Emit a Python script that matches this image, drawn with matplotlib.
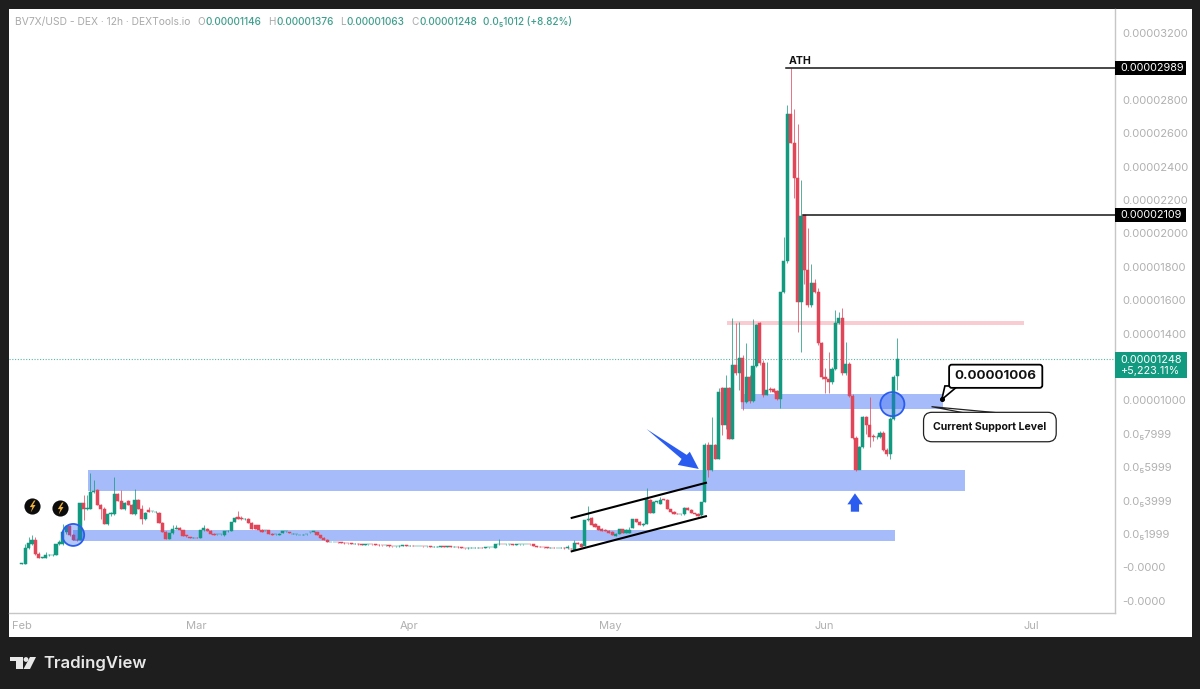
import matplotlib
matplotlib.use('Agg')
import matplotlib.pyplot as plt
from matplotlib.patches import Rectangle, Polygon, Circle

plt.rcParams['font.family'] = ['Inter', 'DejaVu Sans']

W, H = 1200, 689
GREEN = '#129a80'
RED = '#e04558'
BAND = '#a6bcfa'
GREY = '#b0b0b0'

# prices are in units of 1e-8 USD, one candle every 12h
opens = [
    23, 23, 119, 143, 163, 83, 59, 59, 73, 73,
    77, 139, 143, 213, 247, 193, 167, 167, 387, 353,
    353, 453, 463, 373, 353, 263, 319, 323, 443, 399,
    349, 397, 373, 323, 407, 353, 293, 343, 337, 333,
    327, 267, 213, 173, 207, 233, 237, 223, 193, 183,
    177, 179, 179, 223, 233, 219, 203, 199, 199, 193,
    219, 219, 273, 301, 299, 293, 293, 267, 253, 253,
    227, 223, 223, 203, 199, 195, 207, 219, 213, 203,
    199, 195, 197, 199, 211, 215, 213, 193, 179, 167,
    153,
    153, 153, 151, 149, 147, 145, 143, 143, 141, 137,
    139, 141, 139, 137, 135, 133, 133, 129, 127, 127,
    131, 133, 131, 131, 129, 129, 129, 127, 127, 125,
    125, 125, 127, 123, 127, 125, 125, 121, 117, 115,
    119, 119, 119, 119, 117, 121, 123, 119, 139, 141,
    139, 139, 139, 137, 139, 139, 141, 141, 139, 129,
    125, 123, 121, 119, 119, 117, 117, 119, 115, 113,
    107, 147, 143, 129, 283, 297, 263, 247, 233, 227,
    219, 213, 187, 203, 229, 207, 207, 237, 289, 273,
    253, 263, 403, 327, 393, 383, 409, 407, 349, 335,
    323, 319, 319, 359, 347, 327, 323, 313, 393,
    732, 582, 732, 652, 1072, 852, 1072, 772, 1212, 1162,
    1256, 992, 1138, 996, 1206, 1462, 1226, 1032, 1066, 1066,
    1056, 1006, 1652, 1835, 2713, 2539, 2335, 1590, 2109, 1779,
    1572, 1705, 1652, 1342, 1138, 1126, 1112, 1186, 1462, 1492,
    1162, 1218, 1026, 776, 582, 722, 902, 852, 786, 782,
    782, 808, 706, 678, 892, 1146,
]
closes = [
    25, 119, 147, 163, 83, 59, 61, 73, 73, 77,
    139, 153, 213, 247, 193, 167, 163, 387, 353, 355,
    453, 459, 373, 353, 263, 319, 327, 443, 399, 349,
    387, 373, 323, 407, 353, 293, 327, 333, 337, 333,
    267, 213, 173, 207, 233, 237, 223, 187, 187, 177,
    179, 177, 227, 237, 219, 199, 195, 199, 199, 219,
    219, 273, 297, 291, 291, 293, 267, 233, 233, 223,
    213, 223, 203, 193, 199, 203, 217, 219, 205, 203,
    199, 195, 197, 203, 215, 219, 193, 179, 167, 153,
    153,
    153, 151, 149, 147, 145, 143, 143, 141, 137, 139,
    141, 139, 137, 135, 133, 133, 129, 127, 127, 131,
    133, 131, 131, 129, 129, 129, 127, 127, 125, 125,
    125, 127, 123, 127, 125, 125, 121, 117, 115, 119,
    119, 119, 119, 117, 121, 123, 123, 139, 141, 139,
    139, 139, 137, 139, 139, 141, 141, 139, 129, 125,
    123, 121, 119, 119, 117, 117, 119, 115, 121, 111,
    147, 143, 123, 283, 293, 253, 243, 223, 219, 219,
    207, 193, 203, 229, 207, 227, 223, 289, 273, 253,
    263, 409, 327, 393, 397, 407, 407, 349, 335, 323,
    319, 319, 359, 347, 327, 319, 309, 393, 732,
    582, 732, 652, 1052, 852, 1072, 772, 1212, 1162, 1256,
    992, 1138, 996, 1206, 1452, 1226, 1032, 1062, 1062, 1052,
    1006, 1652, 1835, 2713, 2539, 2335, 1590, 2105, 1779, 1572,
    1705, 1650, 1342, 1138, 1126, 1112, 1186, 1462, 1492, 1162,
    1218, 1026, 776, 582, 722, 902, 852, 782, 782, 782,
    808, 706, 678, 892, 1142, 1248,
]
highs = [
    25, 143, 183, 197, 183, 93, 65, 93, 79, 81,
    143, 167, 263, 255, 255, 203, 175, 387, 433, 433,
    563, 523, 467, 383, 365, 323, 335, 543, 447, 463,
    391, 405, 381, 467, 411, 373, 333, 363, 341, 337,
    333, 271, 217, 207, 253, 253, 241, 227, 197, 185,
    181, 183, 227, 253, 237, 223, 207, 203, 201, 221,
    223, 273, 305, 339, 307, 297, 297, 271, 257, 257,
    231, 227, 225, 207, 201, 207, 221, 221, 215, 205,
    201, 197, 199, 203, 215, 219, 215, 195, 181, 169,
    155,
    155, 155, 153, 151, 149, 147, 145, 145, 143, 141,
    143, 143, 141, 139, 137, 135, 135, 131, 129, 133,
    135, 135, 133, 133, 131, 131, 131, 129, 129, 127,
    127, 129, 129, 129, 129, 127, 127, 123, 119, 121,
    121, 121, 121, 121, 123, 125, 125, 141, 169, 143,
    141, 141, 141, 141, 141, 143, 143, 143, 141, 131,
    127, 125, 123, 121, 121, 119, 121, 121, 137, 115,
    163, 151, 147, 287, 369, 301, 267, 251, 235, 231,
    223, 217, 207, 231, 233, 231, 241, 291, 293, 277,
    267, 473, 413, 397, 399, 423, 411, 409, 351, 337,
    325, 321, 361, 361, 349, 329, 325, 393, 745,
    750, 902, 740, 1072, 1082, 1152, 1080, 1492, 1462, 1472,
    1270, 1342, 1150, 1486, 1460, 1470, 1240, 1232, 1082, 1072,
    1062, 1652, 1979, 2769, 2989, 2743, 2655, 2323, 2109, 2033,
    1819, 1725, 1672, 1352, 1192, 1292, 1200, 1542, 1532, 1552,
    1352, 1230, 1040, 790, 730, 910, 910, 1022, 800, 792,
    820, 815, 715, 900, 1150, 1376,
]
lows = [
    21, 23, 111, 135, 73, 55, 55, 57, 69, 71,
    73, 135, 137, 203, 187, 163, 159, 163, 283, 345,
    350, 445, 373, 293, 263, 255, 310, 315, 399, 349,
    343, 373, 323, 315, 353, 263, 285, 333, 331, 327,
    267, 213, 173, 169, 203, 229, 223, 187, 183, 175,
    175, 175, 175, 219, 219, 199, 195, 197, 195, 191,
    215, 217, 271, 291, 285, 285, 267, 233, 233, 223,
    213, 217, 203, 193, 195, 193, 205, 215, 205, 201,
    197, 193, 195, 197, 207, 213, 193, 179, 167, 153,
    151,
    151, 149, 147, 143, 141, 141, 139, 135, 135, 135,
    137, 135, 133, 131, 131, 127, 125, 125, 125, 125,
    129, 129, 129, 127, 127, 127, 125, 125, 123, 123,
    123, 123, 121, 121, 123, 123, 119, 115, 113, 113,
    117, 117, 117, 115, 115, 119, 121, 117, 137, 139,
    137, 137, 135, 135, 137, 137, 139, 137, 127, 123,
    121, 119, 117, 117, 115, 115, 115, 113, 113, 109,
    105, 143, 121, 127, 281, 253, 243, 223, 219, 219,
    207, 193, 187, 199, 207, 205, 205, 235, 273, 253,
    251, 261, 325, 325, 387, 383, 405, 349, 335, 323,
    319, 317, 317, 347, 327, 319, 309, 311, 391,
    542, 578, 648, 648, 792, 832, 770, 770, 1150, 1062,
    942, 985, 985, 990, 1200, 1215, 1020, 1030, 1050, 1045,
    1000, 952, 1645, 1825, 2539, 2213, 1412, 1292, 1700, 1560,
    1560, 1645, 1335, 1130, 1042, 1042, 1100, 1180, 1455, 1155,
    1155, 1020, 770, 575, 700, 715, 800, 720, 760, 770,
    775, 700, 670, 652, 885, 1063,
]

month_ticks = [0, 51, 112.7, 171.5, 233.7, 294]
month_labels = ['Feb', 'Mar', 'Apr', 'May', 'Jun', 'Jul']
price_ticks = [3200, 2800, 2600, 2400, 2200, 2000, 1800, 1600, 1400,
               1000, 800, 600, 400, 200, 0, -200]
price_labels = ['0.00003200', '0.00002800', '0.00002600', '0.00002400',
                '0.00002200', '0.00002000', '0.00001800', '0.00001600', '0.00001400',
                '0.00001000', '0.0₅7999', '0.0₅5999', '0.0₅3999', '0.0₅1999',
                '-0.0000', '-0.0000']

ath_price = 2989
swing_price = 2109
last_price = 1248
support_price = 1006


def px_axes(fig, left, top, right, bottom):
    # axes placed by pixel edges, measured from the top left of the figure
    return fig.add_axes([left / W, 1 - bottom / H, (right - left) / W, (bottom - top) / H])


fig = plt.figure(figsize=(12, 6.89), dpi=100, facecolor='#1e1e1e')

# white panel and footer chrome, in pixel coordinates
chrome = px_axes(fig, 0, 0, W, H)
chrome.set_xlim(0, W)
chrome.set_ylim(H, 0)
chrome.axis('off')
chrome.add_patch(Rectangle((9, 9), 1183, 628, fc='white', ec='none'))
chrome.add_patch(Polygon([(10, 657), (23, 657), (23, 669), (16, 669), (16, 661), (10, 661)], fc='#e8e8e8'))
chrome.add_patch(Circle((26, 659.5), 2.4, fc='#e8e8e8'))
chrome.add_patch(Polygon([(30, 657), (36, 657), (30, 669), (23.5, 669)], fc='#e8e8e8'))
chrome.text(43, 663.5, 'TradingView', color='#e8e8e8', fontsize=12.0, fontweight='semibold', va='center')

ax = px_axes(fig, 9, 9, 1114.5, 613)
ax.patch.set_alpha(0)
ax.set_xlim(-3.7, 318.3)
ax.set_ylim(-272.5, 3344)
for side in ['left', 'top']:
    ax.spines[side].set_visible(False)
for side in ['right', 'bottom']:
    ax.spines[side].set_color('#c6c6c6')
    ax.spines[side].set_linewidth(1.0)

ax.yaxis.tick_right()
ax.set_yticks(price_ticks, price_labels)
ax.set_xticks(month_ticks, month_labels)
ax.tick_params(axis='y', length=0, pad=5.5, labelcolor=GREY, labelsize=8.0)
ax.tick_params(axis='x', length=0, pad=6, labelcolor=GREY, labelsize=8.0)

# zones behind the candles
ax.fill_between([19.3, 274.7], 458, 584, color=BAND, lw=0, zorder=1)
ax.fill_between([15, 254.5], 159, 226, color=BAND, lw=0, zorder=1)
ax.fill_between([209.5, 268.3], 948, 1038, color=BAND, lw=0, zorder=1)
ax.fill_between([205.5, 291.8], 1450, 1478, color='#f9ccd1', lw=0, zorder=1)

# candles
xs = list(range(len(closes)))
colors = [GREEN if c >= o else RED for o, c in zip(opens, closes)]
ax.vlines(xs, lows, highs, colors=colors, linewidth=0.7, alpha=0.75, zorder=2)
ax.bar(xs, [c - o for o, c in zip(opens, closes)], bottom=opens, width=0.92,
       color=colors, edgecolor=colors, linewidth=0.35, zorder=3)

# last price and key levels
ax.axhline(last_price, color='#5cb5a3', linewidth=0.8, linestyle=(0, (1, 1.5)), zorder=2)
ax.plot([222.6, 318.3], [ath_price, ath_price], color='#151515', linewidth=1.1, zorder=4)
ax.plot([227.5, 318.3], [swing_price, swing_price], color='#151515', linewidth=1.1, zorder=4)
ax.text(223.5, ath_price + 15, 'ATH', fontsize=7.6, fontweight='bold', color='#111111', va='bottom')

# rising channel
ax.plot([160.2, 199.3], [297, 507], color='black', linewidth=1.5, zorder=5)
ax.plot([160.2, 199.3], [97, 307], color='black', linewidth=1.5, zorder=5)

# blue arrows
ax.fill([182, 193.7, 194.6, 197.2, 191.1, 192.2], [829, 674, 693, 590, 614, 650],
        color='#2a5cf0', lw=0, zorder=6)
ax.fill([242.7, 245, 243.9, 243.9, 241.5, 241.5, 240.5], [444, 378, 378, 334, 334, 378, 378],
        color='#2a5cf0', lw=0, zorder=6)

# circled retests
ax.scatter([15, 253.6], [195, 978], s=[250, 300], facecolor=(0.16, 0.38, 0.95, 0.35),
           edgecolor='#2a5cf0', linewidth=1.3, zorder=6)

# lightning badges
bolt = [(0.25, 1), (-0.45, -0.1), (-0.02, -0.1), (-0.3, -1), (0.5, 0.25), (0.05, 0.25), (0.5, 1)]
ax.scatter([3.1, 11.2], [370, 355], s=135, color='#0c0c0c', lw=0, zorder=6)
ax.scatter([3.1, 11.2], [370, 355], s=75, marker=bolt, color='#eeb03c', lw=0, zorder=7)

# callouts
ax.fill([268.9, 272.7, 268], [1087, 1087, support_price], facecolor='white', edgecolor='black',
        linewidth=1.2, zorder=7)
ax.scatter([268], [support_price], s=7, color='black', zorder=8)
ax.text(283.7, 1145, '0.00001006', fontsize=9.6, fontweight='bold', color='#111111', ha='center', va='center',
        zorder=9, bbox=dict(boxstyle='round,pad=0.42,rounding_size=0.2', fc='white', ec='black', lw=1.3))
ax.fill([265, 274.7, 284.9], [963, 925, 925], facecolor='white', edgecolor='#222222',
        linewidth=0.9, zorder=7)
ax.text(282, 841, 'Current Support Level', fontsize=7.6, fontweight='bold', color='#111111', ha='center',
        va='center', zorder=9,
        bbox=dict(boxstyle='round,pad=0.92,rounding_size=0.8', fc='white', ec='#222222', lw=0.9))

# price tags on the scale
tag_trans = ax.get_yaxis_transform()
for level, label in [(ath_price, '0.00002989'), (swing_price, '0.00002109')]:
    ax.add_patch(Rectangle((1.0, level - 42), 0.0645, 84, transform=tag_trans, fc='black', ec='none',
                           clip_on=False, zorder=8))
    ax.text(1.0055, level, label, transform=tag_trans, color='white', fontsize=7.8, va='center', zorder=9)
ax.add_patch(Rectangle((1.0, last_price - 116), 0.0656, 156, transform=tag_trans, fc=GREEN, ec='none',
                       clip_on=False, zorder=8))
ax.text(1.0055, last_price - 38, '0.00001248\n+5,223.11%', transform=tag_trans, color='white', fontsize=7.8,
        va='center', linespacing=1.15, zorder=9)

# header line
chrome.set_zorder(0)
ax.set_zorder(1)
head_y = 25
chrome.text(15, head_y, 'BV7X/USD - DEX · 12h · DEXTools.io', color='#a9a9a9', fontsize=7.4, va='baseline')
for x, letter in [(197, 'O'), (268.5, 'H'), (340.5, 'L'), (411, 'C')]:
    chrome.text(x, head_y, letter, color='#a9a9a9', fontsize=7.2, va='baseline')
for x, value in [(205, '0.00001146'), (276.5, '0.00001376'), (346.5, '0.00001063'), (419, '0.00001248'),
                 (483, '0.0₅1012 (+8.82%)')]:
    chrome.text(x, head_y, value, color='#3f9f8c', fontsize=7.2, fontweight='medium', va='baseline')

fig.savefig('out.png', dpi=100, facecolor=fig.get_facecolor())
